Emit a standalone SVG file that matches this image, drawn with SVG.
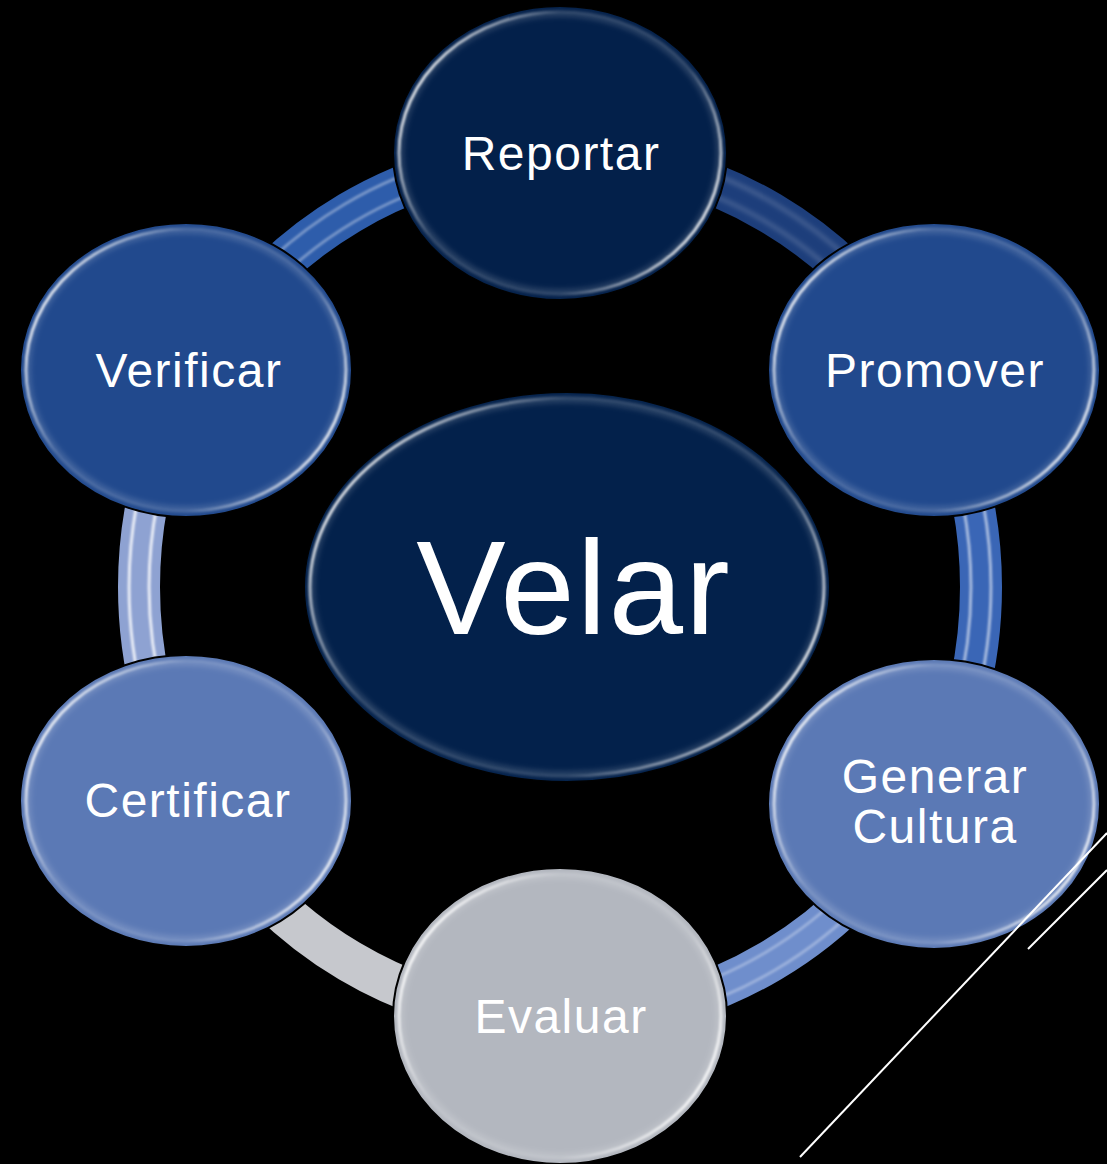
<svg xmlns="http://www.w3.org/2000/svg" width="1107" height="1164" viewBox="0 0 1107 1164">
<defs>
<linearGradient id="rim" x1="0" y1="0.25" x2="1" y2="0.75">
<stop offset="0" stop-color="#fff" stop-opacity="1"/>
<stop offset="0.12" stop-color="#fff" stop-opacity="0.6"/>
<stop offset="0.3" stop-color="#fff" stop-opacity="0.1"/>
<stop offset="0.7" stop-color="#fff" stop-opacity="0.1"/>
<stop offset="0.88" stop-color="#fff" stop-opacity="0.6"/>
<stop offset="1" stop-color="#fff" stop-opacity="1"/>
</linearGradient>
<filter id="soft" x="-10%" y="-10%" width="120%" height="120%">
<feGaussianBlur stdDeviation="0.8"/>
</filter>
<filter id="softer" x="-10%" y="-10%" width="120%" height="120%">
<feGaussianBlur stdDeviation="2.5"/>
</filter>
</defs>
<style>
.base{stroke:#000;stroke-width:2}
.rim{fill:none;stroke:url(#rim);stroke-width:3}
.glow{fill:none;stroke:#fff;stroke-opacity:0.14;stroke-width:6}
.lbl{fill:#fff;font-family:"Liberation Sans",Arial,sans-serif;font-size:48px;text-anchor:middle;letter-spacing:1.5px}
.band{fill:none;stroke-width:42;stroke-linecap:butt}
.hl{fill:none;stroke:#fff;stroke-width:3}
.deco{stroke:#fff;stroke-width:2;fill:none}
</style>
<rect x="0" y="0" width="1107" height="1164" fill="#000"/>

<g id="connectors">
<path class="band" stroke="#1D3E7B" d="M 560 155 A 421 432 0 0 1 924.6 371"/>
<path class="hl" stroke-opacity="0.25" filter="url(#softer)" d="M 560 165 A 411 422 0 0 1 915.9 376"/>
<path class="hl" stroke-opacity="0.25" filter="url(#softer)" d="M 560 145 A 431 442 0 0 1 933.2 366"/>
<path class="band" stroke="#3A66B6" d="M 924.6 371 A 421 432 0 0 1 924.6 803"/>
<path class="hl" stroke-opacity="0.55" filter="url(#soft)" d="M 915.9 376 A 411 422 0 0 1 915.9 798"/>
<path class="hl" stroke-opacity="0.55" filter="url(#soft)" d="M 933.2 366 A 431 442 0 0 1 933.2 808"/>
<path class="band" stroke="#6F8ECC" d="M 924.6 803 A 421 432 0 0 1 560 1019"/>
<path class="hl" stroke-opacity="0.3" filter="url(#soft)" d="M 915.9 798 A 411 422 0 0 1 560 1009"/>
<path class="hl" stroke-opacity="0.3" filter="url(#soft)" d="M 933.2 808 A 431 442 0 0 1 560 1029"/>
<path class="band" stroke="#C6C8CD" d="M 560 1019 A 421 432 0 0 1 195.4 803"/>
<path class="band" stroke="#8EA2D2" d="M 195.4 803 A 421 432 0 0 1 195.4 371"/>
<path class="hl" stroke-opacity="0.8" filter="url(#soft)" d="M 204.1 798 A 411 422 0 0 1 204.1 376"/>
<path class="hl" stroke-opacity="0.8" filter="url(#soft)" d="M 186.8 808 A 431 442 0 0 1 186.8 366"/>
<path class="band" stroke="#2E5DAB" d="M 195.4 371 A 421 432 0 0 1 560 155"/>
<path class="hl" stroke-opacity="0.35" filter="url(#soft)" d="M 204.1 376 A 411 422 0 0 1 560 165"/>
<path class="hl" stroke-opacity="0.35" filter="url(#soft)" d="M 186.8 366 A 431 442 0 0 1 560 145"/>
</g>

<g id="node-velar">
<ellipse class="base" cx="567" cy="587" rx="263" ry="195" fill="#03214B"/>
<ellipse class="glow" cx="567" cy="587" rx="255" ry="187" filter="url(#softer)"/>
<ellipse class="rim" cx="567" cy="587" rx="257" ry="189" filter="url(#soft)"/>
<text x="574" y="634" fill="#fff" font-family="'Liberation Sans',Arial,sans-serif" font-size="134" text-anchor="middle" letter-spacing="2">Velar</text>
</g>

<g id="node-reportar">
<ellipse class="base" cx="560" cy="153" rx="167" ry="147" fill="#03204A"/>
<ellipse class="glow" cx="560" cy="153" rx="159" ry="139" filter="url(#softer)"/>
<ellipse class="rim" cx="560" cy="153" rx="161" ry="141" filter="url(#soft)"/>
<text class="lbl" x="561" y="170">Reportar</text>
</g>

<g id="node-promover">
<ellipse class="base" cx="934" cy="370" rx="166" ry="147" fill="#21498D"/>
<ellipse class="glow" cx="934" cy="370" rx="158" ry="139" filter="url(#softer)"/>
<ellipse class="rim" cx="934" cy="370" rx="160" ry="141" filter="url(#soft)"/>
<text class="lbl" x="935" y="387">Promover</text>
</g>

<g id="node-generar-cultura">
<ellipse class="base" cx="934" cy="804" rx="166" ry="145" fill="#5B79B5"/>
<ellipse class="glow" cx="934" cy="804" rx="158" ry="137" filter="url(#softer)"/>
<ellipse class="rim" cx="934" cy="804" rx="160" ry="139" filter="url(#soft)"/>
<text class="lbl" x="935" y="793">Generar</text>
<text class="lbl" x="935" y="843">Cultura</text>
</g>

<g id="node-evaluar">
<ellipse class="base" cx="560" cy="1016" rx="167" ry="148" fill="#B3B7BF"/>
<ellipse class="glow" cx="560" cy="1016" rx="159" ry="140" filter="url(#softer)"/>
<ellipse class="rim" cx="560" cy="1016" rx="161" ry="142" filter="url(#soft)"/>
<text class="lbl" x="561" y="1033">Evaluar</text>
</g>

<g id="node-certificar">
<ellipse class="base" cx="186" cy="801" rx="166" ry="146" fill="#5B79B5"/>
<ellipse class="glow" cx="186" cy="801" rx="158" ry="138" filter="url(#softer)"/>
<ellipse class="rim" cx="186" cy="801" rx="160" ry="140" filter="url(#soft)"/>
<text class="lbl" x="188" y="817">Certificar</text>
</g>

<g id="node-verificar">
<ellipse class="base" cx="186" cy="370" rx="166" ry="147" fill="#21498D"/>
<ellipse class="glow" cx="186" cy="370" rx="158" ry="139" filter="url(#softer)"/>
<ellipse class="rim" cx="186" cy="370" rx="160" ry="141" filter="url(#soft)"/>
<text class="lbl" x="189" y="387">Verificar</text>
</g>

<g id="decoration">
<line class="deco" x1="800" y1="1157" x2="1107" y2="833"/>
<line class="deco" x1="1028" y1="949" x2="1107" y2="870"/>
</g>
</svg>
